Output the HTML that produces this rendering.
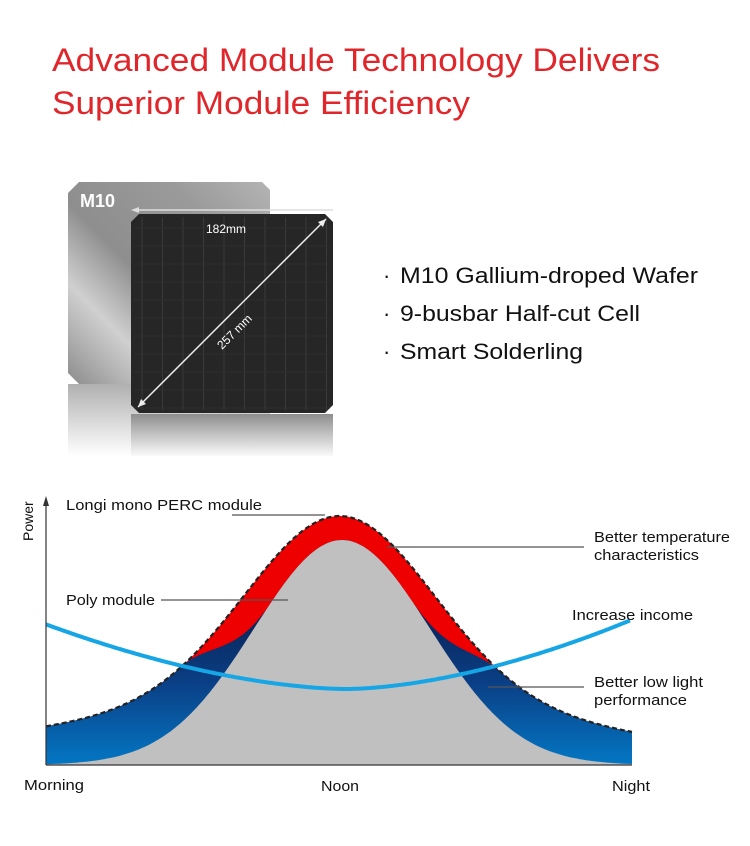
<!DOCTYPE html>
<html><head><meta charset="utf-8"><style>
html,body{margin:0;padding:0;background:#fff;width:750px;height:846px;overflow:hidden}
svg{display:block}
text{font-family:"Liberation Sans",Arial,sans-serif}
</style></head><body>
<svg id="s" width="750" height="846" viewBox="0 0 750 846" xmlns="http://www.w3.org/2000/svg">
<defs>
<linearGradient id="metal" x1="0" y1="1" x2="1" y2="0">
<stop offset="0" stop-color="#8c8c8c"/><stop offset="0.25" stop-color="#d0d0d0"/><stop offset="0.45" stop-color="#8e8e8e"/><stop offset="0.75" stop-color="#9a9a9a"/><stop offset="1" stop-color="#b4b4b4"/>
</linearGradient>
<linearGradient id="refl" x1="0" y1="0" x2="0" y2="1">
<stop offset="0" stop-color="#b0b0b0"/><stop offset="1" stop-color="#fff"/>
</linearGradient>
<linearGradient id="refl2" x1="0" y1="0" x2="0" y2="1">
<stop offset="0" stop-color="#8e8e8e"/><stop offset="1" stop-color="#fafafa"/>
</linearGradient>
<linearGradient id="blu" x1="0" y1="600" x2="0" y2="765" gradientUnits="userSpaceOnUse">
<stop offset="0" stop-color="#0a1d4d"/><stop offset="0.5" stop-color="#0a3f85"/><stop offset="1" stop-color="#0477c4"/>
</linearGradient>
</defs>
<text x="52" y="71" font-size="32" fill="#e0262a" textLength="608" lengthAdjust="spacingAndGlyphs">Advanced Module Technology Delivers</text>
<text x="52" y="114" font-size="32" fill="#e0262a" textLength="418" lengthAdjust="spacingAndGlyphs">Superior Module Efficiency</text>

<polygon points="79,182 262,182 270,190 270,384 79,384 68,373 68,193" fill="url(#metal)"/>
<rect x="68" y="384" width="202" height="72" fill="url(#refl)"/>
<text x="80" y="207" font-size="18" font-weight="bold" fill="#fff">M10</text>
<polygon points="139,214 325,214 333,222 333,405 325,413 139,413 131,405 131,222" fill="#262626"/>
<rect x="131" y="414" width="202" height="42" fill="url(#refl2)"/>
<g id="grid" stroke="#3a3a3a" stroke-width="1"></g>
<line x1="134" y1="210" x2="333" y2="210" stroke="#ddd" stroke-width="1.5"/>
<polygon points="131,210 139,207 139,213" fill="#ddd"/>
<text x="206" y="233" font-size="12" fill="#fff">182mm</text>
<line x1="138" y1="407" x2="326" y2="219" stroke="#eee" stroke-width="1.5"/>
<polygon points="326,219 318,222 323,227" fill="#eee"/>
<polygon points="138,407 141,399 146,404" fill="#eee"/>
<text x="0" y="0" font-size="12" fill="#fff" transform="translate(222,350) rotate(-45)">257 mm</text>

<text x="383" y="283" font-size="22" fill="#111">·</text>
<text x="383" y="321" font-size="22" fill="#111">·</text>
<text x="383" y="359" font-size="22" fill="#111">·</text>
<text x="400" y="283" font-size="22" fill="#111" textLength="298" lengthAdjust="spacingAndGlyphs">M10 Gallium-droped Wafer</text>
<text x="400" y="321" font-size="22" fill="#111" textLength="240" lengthAdjust="spacingAndGlyphs">9-busbar Half-cut Cell</text>
<text x="400" y="359" font-size="22" fill="#111" textLength="183" lengthAdjust="spacingAndGlyphs">Smart Solderling</text>

<path id="red" fill="#ee0000"/>
<path id="poly" fill="url(#blu)"/>
<path id="gray" fill="#c0c0c0"/>
<path id="dash" fill="none" stroke="#222" stroke-width="2.2" stroke-dasharray="5,3"/>
<path id="inc" fill="none" stroke="#16a6e6" stroke-width="4"/>
<line x1="46" y1="765" x2="46" y2="502" stroke="#333" stroke-width="1.2"/>
<polygon points="46,496 43,506 49,506" fill="#333"/>
<line x1="46" y1="765" x2="632" y2="765" stroke="#333" stroke-width="1.2"/>
<text font-size="14" fill="#111" transform="translate(33,541) rotate(-90)">Power</text>
<g stroke="#555" stroke-width="1.3">
<line x1="232" y1="515" x2="325" y2="515"/>
<line x1="387" y1="547" x2="584" y2="547"/>
<line x1="161" y1="600" x2="288" y2="600"/>
<line x1="488" y1="687" x2="584" y2="687"/>
</g>
<g font-size="15" fill="#111">
<text x="66" y="510" textLength="196" lengthAdjust="spacingAndGlyphs">Longi mono PERC module</text>
<text x="594" y="542" textLength="136" lengthAdjust="spacingAndGlyphs">Better temperature</text>
<text x="594" y="560" textLength="105" lengthAdjust="spacingAndGlyphs">characteristics</text>
<text x="66" y="605" textLength="89" lengthAdjust="spacingAndGlyphs">Poly module</text>
<text x="572" y="620" textLength="121" lengthAdjust="spacingAndGlyphs">Increase income</text>
<text x="594" y="687" textLength="109" lengthAdjust="spacingAndGlyphs">Better low light</text>
<text x="594" y="705" textLength="93" lengthAdjust="spacingAndGlyphs">performance</text>
<text x="24" y="790" textLength="60" lengthAdjust="spacingAndGlyphs">Morning</text>
<text x="321" y="791" textLength="38" lengthAdjust="spacingAndGlyphs">Noon</text>
<text x="612" y="791" textLength="38" lengthAdjust="spacingAndGlyphs">Night</text>
</g>
</svg>
<script>
(function(){
var B=765;
function g(x){var d=x-342;return 225*Math.exp(-(d/88)*(d/88)/2);}
function o(x){var d=x-340;var e=(x<340)?0:-6*Math.min(1,(x-340)/292);return 170*Math.exp(-(d/92)*(d/92)/2)+79/(1+(d/281)*(d/281))+e;}
function p(x){var d=Math.abs(x-341),t=Math.min(1,Math.max(0,(d-70)/90));t=t*t*(3-2*t);return g(x)+(o(x)-g(x))*t;}
function path(f,closed){var s="";for(var x=46;x<=632;x+=2){s+=(x==46?"M":"L")+x+","+(B-f(x)).toFixed(1);}
if(closed)s+="L632,"+B+"L46,"+B+"Z";return s;}
function $(i){return document.getElementById(i);}
$("red").setAttribute("d",path(o,1));
$("poly").setAttribute("d",path(p,1));
$("gray").setAttribute("d",path(g,1));
$("dash").setAttribute("d",path(o,0));
var s="";for(var x=46;x<=631;x+=2){var d=(x-346)/290;var base=(x<346)?61:71;s+=(x==46?"M":"L")+x+","+(689-base*Math.pow(Math.abs(d),1.7)).toFixed(1);}
$("inc").setAttribute("d",s);
var gr=$("grid"),h="";
for(var i=0;i<10;i++){var xx=142+i*20.5;h+='<line x1="'+xx+'" y1="217" x2="'+xx+'" y2="410"/>';}
for(var j=0;j<11;j++){var yy=228+j*18;h+='<line x1="134" y1="'+yy+'" x2="330" y2="'+yy+'" stroke="#2e2e2e"/>';}
gr.innerHTML=h;
})();
</script>
</body></html>
